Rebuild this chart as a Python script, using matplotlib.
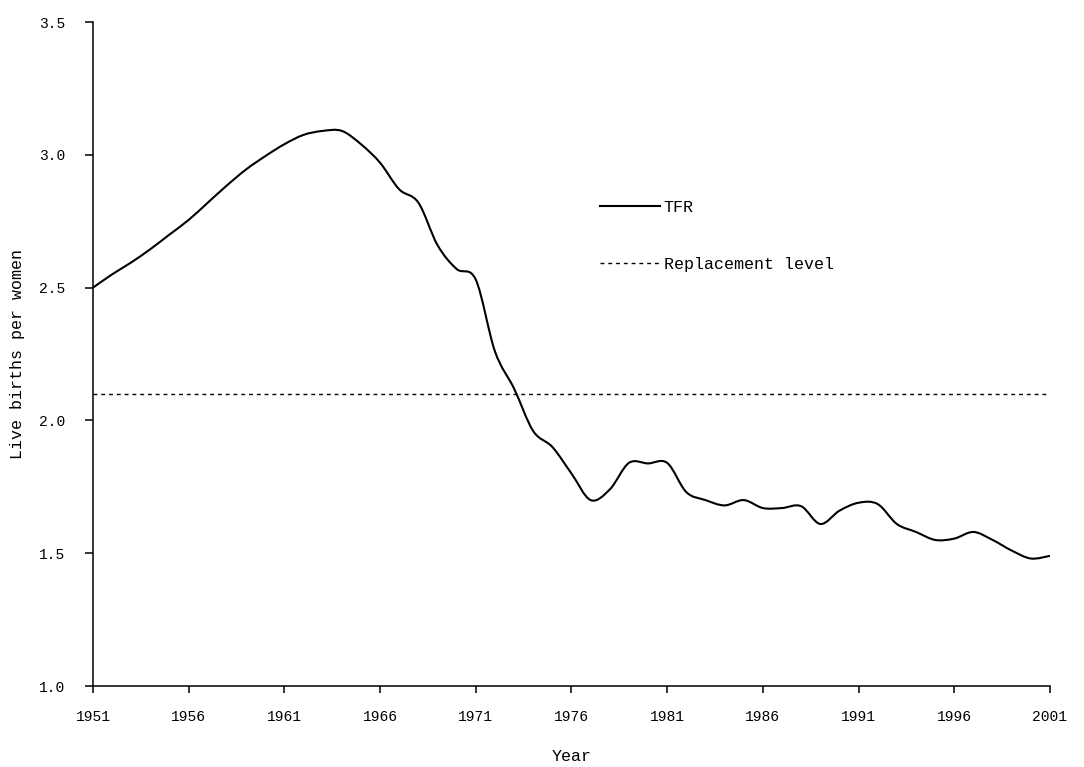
import numpy as np
import matplotlib.pyplot as plt
from matplotlib.path import Path
from matplotlib.patches import PathPatch
from matplotlib.lines import Line2D

plt.rcParams.update({
    'font.family': ['Liberation Mono', 'DejaVu Sans Mono'],
    'font.size': 10,
})

# Total fertility rate
years = list(range(1951, 2002))
tfr = [2.50, 2.55, 2.595, 2.645, 2.70, 2.755, 2.82, 2.885, 2.945, 2.995,
       3.04, 3.075, 3.09, 3.09, 3.04, 2.97, 2.87, 2.82, 2.66, 2.57,
       2.53, 2.26, 2.12, 1.96, 1.90, 1.80, 1.70, 1.74, 1.84, 1.838,
       1.84, 1.73, 1.70, 1.68, 1.70, 1.67, 1.67, 1.677, 1.61, 1.66,
       1.69, 1.685, 1.61, 1.58, 1.55, 1.555, 1.58, 1.55, 1.51, 1.48,
       1.49]
replacement = 2.1
xticks = [1951, 1956, 1961, 1966, 1971, 1976, 1981, 1986, 1991, 1996, 2001]
yticks = [1.0, 1.5, 2.0, 2.5, 3.0, 3.5]


def smooth_path(x, y):
    # Excel-style smoothed line: Catmull-Rom segments as cubic Beziers
    p = np.column_stack([x, y]).astype(float)
    n = len(p)
    verts = [p[0]]
    codes = [Path.MOVETO]
    for i in range(n - 1):
        p0 = p[i - 1] if i > 0 else p[i]
        p3 = p[i + 2] if i + 2 < n else p[i + 1]
        c1 = p[i] + (p[i + 1] - p0) / 6
        c2 = p[i + 1] - (p3 - p[i]) / 6
        verts += [c1, c2, p[i + 1]]
        codes += [Path.CURVE4] * 3
    return Path(verts, codes)


fig = plt.figure(figsize=(10.84, 7.67), dpi=100)
ax = fig.add_axes([0.0858, 0.1056, 0.8828, 0.8657])

ax.add_patch(PathPatch(smooth_path(years, tfr), fill=False, edgecolor='black',
                       linewidth=1.5, zorder=3))
ax.plot([years[0], years[-1]], [replacement, replacement], color='black',
        linewidth=1.0, linestyle=(0, (2.8, 2.8)))

ax.set_xlim(1951, 2001)
ax.set_ylim(1.0, 3.5)
ax.set_xticks(xticks)
ax.set_xticklabels([str(t) for t in xticks])
ax.set_yticks(yticks)
ax.set_yticklabels([f'{t:.1f}' for t in yticks])

for s in ['top', 'right']:
    ax.spines[s].set_visible(False)
for s in ['left', 'bottom']:
    ax.spines[s].set_linewidth(1.1)
ax.tick_params(axis='y', direction='out', length=6, width=1.1, pad=14, labelsize=10.5)
ax.tick_params(axis='x', direction='out', length=5, width=1.1, pad=12, labelsize=10.5)

ax.set_xlabel('Year', labelpad=18, fontsize=12)
ax.set_ylabel('Live births per women', labelpad=10, fontsize=12)

handles = [Line2D([], [], color='black', linewidth=1.5),
           Line2D([], [], color='black', linewidth=1.0, linestyle=(0, (2.8, 2.8)))]
ax.legend(handles, ['TFR', 'Replacement level'], loc='upper left',
          bbox_to_anchor=(0.53, 0.732), frameon=False, borderpad=0,
          borderaxespad=0, handlelength=3.6, handletextpad=0.2,
          labelspacing=2.5, fontsize=12)

fig.savefig('out.png', dpi=100)
